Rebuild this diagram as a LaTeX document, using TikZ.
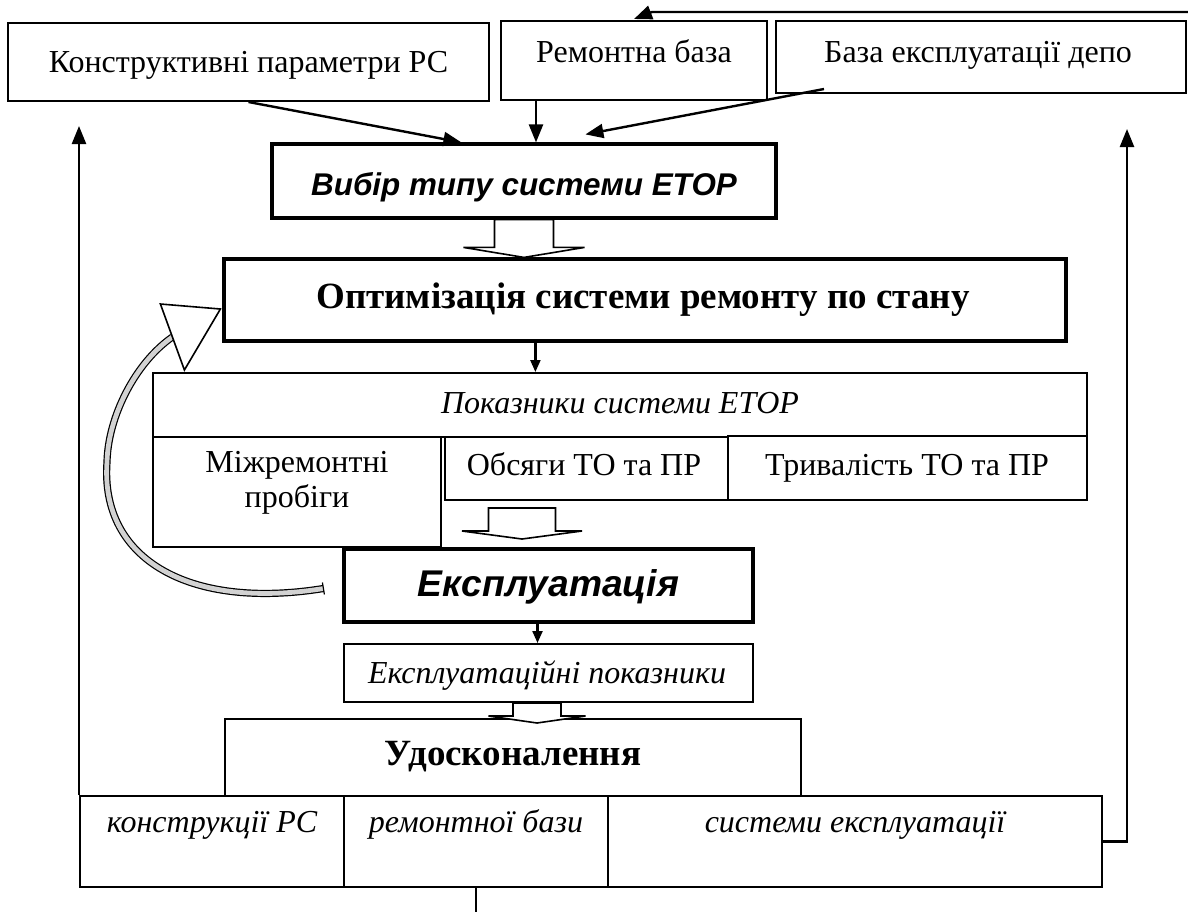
\documentclass[tikz,border=0pt]{standalone}
\usepackage{fontspec}
\setmainfont{Liberation Serif}
\newfontfamily\arialfont{Liberation Sans}
\usetikzlibrary{arrows.meta,calc,fit}

\tikzset{
  box/.style={draw, line width=1pt, fill=white, inner sep=0pt},
  boldbox/.style={box, line width=1.6pt},
  txt/.style={inner sep=0pt, font=\fontsize{16}{17.5}\selectfont},
  txtit/.style={txt, font=\fontsize{16}{17.5}\selectfont\itshape},
  txtbold/.style={inner sep=0pt, font=\fontsize{18.5}{20}\selectfont\bfseries},
  txtsans/.style={inner sep=0pt, font=\arialfont\bfseries\itshape},
  arrbig/.style={line width=1.2pt, -{Triangle[length=9pt,width=7pt]}},
  arrsmall/.style={line width=1.1pt, -{Triangle[length=6pt,width=5pt]}},
  hollow/.style={draw, fill=white, line width=0.8pt, line join=miter},
}

% block arrow pointing down: #1 stem top, #2 tip, #3 half stem, #4 half wing, #5 head length
\newcommand\blockdown[5]{%
  \filldraw[hollow] ($(#1)+(-#3,0)$) -- ($(#2)+(-#3,-#5)$) -- ($(#2)+(-#4,-#5)$)
    -- (#2) -- ($(#2)+(#4,-#5)$) -- ($(#2)+(#3,-#5)$) -- ($(#1)+(#3,0)$) -- cycle;}

\begin{document}
\begin{tikzpicture}[x=0.5pt,y=-0.5pt]
\fill[white] (0,0) rectangle (1188,911);
\useasboundingbox (0,0) rectangle (1188,911);

% ---- boxes ----
\node[box, fit={(8,23) (489,101)}] (b1) {};
\node[box, fit={(501,21) (767,100)}] (b2) {};
\node[box, fit={(776,21) (1186,93)}] (b3) {};
\node[boldbox, fit={(272,144) (776,218)}] (vibir) {};
\node[boldbox, fit={(224,259) (1066,341)}] (optim) {};
\node[box, fit={(153,373) (1087,437)}] (pokaz) {};
\node[box, fit={(153,437) (441,547)}] (mizh) {};
\node[box, fit={(445,437) (728,500)}] (obs) {};
\node[box, fit={(728,436) (1087,500)}] (triv) {};
\node[boldbox, fit={(344,549) (753,622)}] (ekspl) {};
\node[box, fit={(344,644) (753,702)}] (ekspok) {};
\node[box, fit={(225,719) (801,796)}] (udosk) {};
\node[box, fit={(80,796) (344,887)}] (c1) {};
\node[box, fit={(344,796) (608,887)}] (c2) {};
\node[box, fit={(608,796) (1102,887)}] (c3) {};

% ---- texts ----
\node[txt, anchor=base] (b1t) at (248.5,72) {Конструктивні параметри РС};
\node[txt, anchor=base] (b2t) at (634,62) {Ремонтна база};
\node[txt, anchor=base] (b3t) at (978,62) {База експлуатації депо};
\node[txtsans, font=\arialfont\bfseries\itshape\fontsize{15.7}{17}\selectfont, anchor=base] (vibirt) at (524,195) {Вибір типу системи ЕТОР};
\node[txtbold, anchor=base] (optimt) at (643,308) {Оптимізація системи ремонту по стану};
\node[txtit, anchor=base] (pokazt) at (620,413) {Показники системи ЕТОР};
\node[txt, anchor=base] (mizht1) at (297,472) {Міжремонтні};
\node[txt, anchor=base] (mizht2) at (297,507) {пробіги};
\node[txt, anchor=base] (obst) at (584,475) {Обсяги ТО та ПР};
\node[txt, anchor=base] (trivt) at (907,475) {Тривалість ТО та ПР};
\node[txtsans, font=\arialfont\bfseries\itshape\fontsize{18.6}{20}\selectfont, anchor=base] (eksplt) at (548.5,596) {Експлуатація};
\node[txtit, anchor=base] (ekspokt) at (547,683) {Експлуатаційні показники};
\node[txtbold, anchor=base] (udoskt) at (513,765) {Удосконалення};
\node[txtit, anchor=base] (c1t) at (212,832) {конструкції РС};
\node[txtit, anchor=base] (c2t) at (476,832) {ремонтної бази};
\node[txtit, anchor=base] (c3t) at (855,832) {системи експлуатації};

% ---- connector ends ----
\coordinate (t1) at ($(vibir.north west)+(191,0)$);
\coordinate (s2) at ($(b2.south west)+(36,0)$);
\coordinate (s3) at ($(b3.south west)+(49,-5)$);
\coordinate (t3) at ($(vibir.north west)+(315,-8)$);
\coordinate (fbtop) at (1188,12);
\coordinate (fbknee) at (652,12);
\coordinate (fbtip) at ($(b2.north)+(0,-1)$);
\coordinate (lefttip) at ($(b1.south west)+(72,24)$);
\coordinate (righttip) at ($(b3.south east)+(-60,35)$);
\coordinate (stub) at ($(c2.south)+(0,24)$);
\coordinate (s4) at ($(optim.south west)+(313,0)$);
\coordinate (s5) at ($(ekspl.south)+(-11,0)$);

% ---- connectors ----
\draw[arrbig] (b1.south) -- (t1);
\draw[arrbig] (s2) -- (s2 |- vibir.north);
\draw[arrbig] (s3) -- (t3);
\draw[arrbig] (fbtop) -- (fbknee) -- (fbtip);
\draw[arrbig] (c1.north west) -- (lefttip);
\draw[arrbig] (c3.east) -| (righttip);
\draw[line width=1.2pt] (c2.south) -- (stub);
\draw[arrsmall] (s4) -- (s4 |- pokaz.north);
\draw[arrsmall] (s5) -- (s5 |- ekspok.north);

% ---- block arrows ----
\coordinate (a1s) at (vibir.south);
\coordinate (a1t) at (vibir.south |- optim.north);
\blockdown{a1s}{a1t}{29.5}{60.5}{10}
\coordinate (a2s) at ($(obs.south west)+(78,7)$);
\coordinate (a2t) at ($(a2s)+(0,31)$);
\blockdown{a2s}{a2t}{33.5}{60}{8}
\coordinate (a3s) at ($(ekspok.south)+(-11.5,0)$);
\coordinate (a3t) at ($(a3s |- udosk.north)+(0,5)$);
\blockdown{a3s}{a3t}{24}{48.5}{7}

% ---- curved return arrow ----
\coordinate (cs) at ($(ekspl.west)+(-19,3)$);
\coordinate (ct) at ($(optim.west)+(-2,9)$);
\coordinate (cm) at ($(ct)+(-48,28)$);
\draw[line width=0.6pt, double=gray!35, double distance=2.4pt]
  (cs) .. controls (190,610) and (100,560) .. (107,462)
       .. controls (108,417) and (135,363) .. (cm);
\draw[line width=0.6pt] ($(cs)+(-1,-6)$) -- ($(cs)+(1,6)$);
\filldraw[hollow] ($(ct)+(-60,-5)$) -- (ct) -- ($(ct)+(-36,61)$) -- cycle;
\end{tikzpicture}
\end{document}
